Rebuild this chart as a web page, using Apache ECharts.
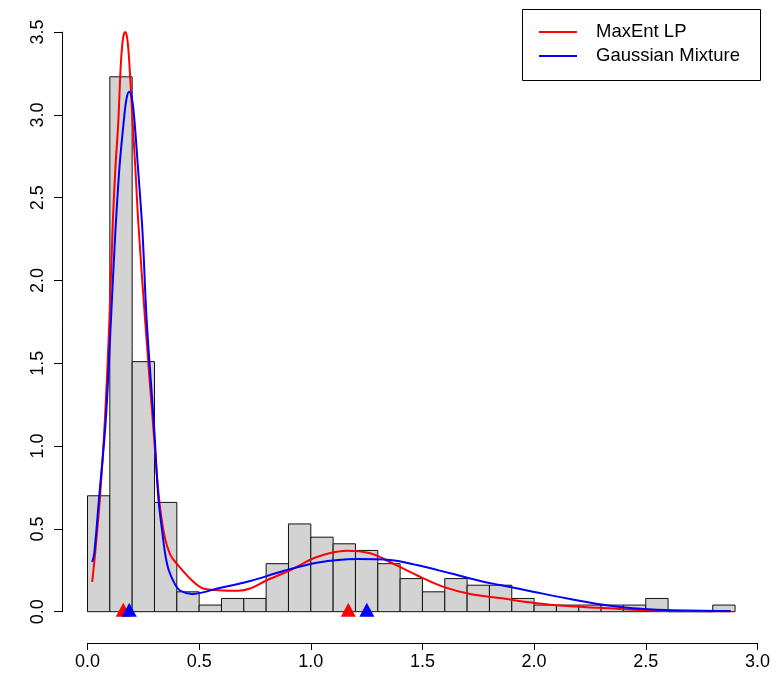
<!DOCTYPE html>
<html>
<head>
<meta charset="utf-8">
<title>MaxEnt LP vs Gaussian Mixture</title>
<script src="https://cdn.jsdelivr.net/npm/echarts@6/dist/echarts.min.js"></script>
<style>
  html, body { margin: 0; padding: 0; background: #fff; }
  #chart { width: 778px; height: 690px; }
</style>
</head>
<body>
<div id="chart"></div>
<script>
// histogram bins (width 0.1) and their density heights
const binEdges = [0, 0.1, 0.2, 0.3, 0.4, 0.5, 0.6, 0.7, 0.8, 0.9, 1.0, 1.1, 1.2, 1.3, 1.4,
  1.5, 1.6, 1.7, 1.8, 1.9, 2.0, 2.1, 2.2, 2.3, 2.4, 2.5, 2.6, 2.7, 2.8, 2.9];
const binHeights = [0.70, 3.23, 1.51, 0.66, 0.12, 0.04, 0.08, 0.08, 0.29, 0.53, 0.45, 0.41, 0.37, 0.29,
  0.20, 0.12, 0.20, 0.16, 0.16, 0.08, 0.04, 0.04, 0.04, 0.04, 0.04, 0.08, 0, 0, 0.04];

// density curves [x, y]
const maxentCurve = [[0.021, 0.18], [0.034, 0.35], [0.056, 0.69], [0.078, 1.16], [0.098, 1.76],
  [0.113, 2.34], [0.125, 2.68], [0.138, 2.96], [0.149, 3.30], [0.159, 3.46], [0.169, 3.50],
  [0.178, 3.46], [0.187, 3.32], [0.203, 2.94], [0.215, 2.66], [0.228, 2.34], [0.258, 1.76],
  [0.292, 1.16], [0.320, 0.69], [0.343, 0.47], [0.372, 0.34],
  [0.406, 0.28], [0.467, 0.19], [0.519, 0.14], [0.586, 0.13], [0.676, 0.127], [0.728, 0.14],
  [0.803, 0.19], [0.907, 0.25], [1.027, 0.33], [1.161, 0.368], [1.266, 0.353], [1.355, 0.30],
  [1.475, 0.22], [1.594, 0.15], [1.714, 0.107], [1.846, 0.083], [1.995, 0.054], [2.144, 0.034],
  [2.293, 0.024], [2.442, 0.012], [2.591, 0.006], [2.88, 0.003]];
const gaussCurve = [[0.021, 0.30], [0.030, 0.35], [0.052, 0.69], [0.082, 1.16], [0.105, 1.76],
  [0.123, 2.25], [0.143, 2.68], [0.163, 2.97], [0.175, 3.10], [0.187, 3.14], [0.199, 3.10],
  [0.210, 2.97], [0.225, 2.70], [0.246, 2.30], [0.265, 1.76], [0.299, 1.10], [0.317, 0.69],
  [0.336, 0.47], [0.349, 0.34], [0.364, 0.25], [0.392, 0.165], [0.414, 0.128], [0.467, 0.107],
  [0.586, 0.141], [0.728, 0.185], [0.877, 0.246], [1.027, 0.296], [1.206, 0.318], [1.355, 0.312],
  [1.475, 0.282], [1.624, 0.232], [1.773, 0.181], [1.848, 0.161], [1.995, 0.121], [2.144, 0.081],
  [2.293, 0.045], [2.442, 0.021], [2.591, 0.010], [2.88, 0.004]];

// mode markers
const maxentModes = [0.16, 1.168];
const gaussModes = [0.187, 1.251];

// axis ticks
const xTicks = [0, 0.5, 1.0, 1.5, 2.0, 2.5, 3.0];
const yTicks = [0, 0.5, 1.0, 1.5, 2.0, 2.5, 3.0, 3.5];

const FONT = "'Liberation Sans', Arial, sans-serif";

// build histogram rows [start, end, height]
const histData = binHeights.map((h, i) => [binEdges[i], binEdges[i] + 0.1, h]);

const chart = echarts.init(document.getElementById('chart'), null, { renderer: 'canvas' });

const option = {
  animation: false,
  backgroundColor: '#fff',
  grid: { left: 87.5, right: 20.6, top: 32.1, bottom: 78.3, containLabel: false },
  xAxis: {
    type: 'value',
    min: xTicks[0],
    max: xTicks[xTicks.length - 1],
    interval: 0.5,
    offset: 31.3,
    axisLine: { show: true, onZero: false, lineStyle: { color: '#000', width: 1 } },
    axisTick: { show: true, length: 7, lineStyle: { color: '#000', width: 1 } },
    axisLabel: {
      color: '#000', fontFamily: FONT, fontSize: 18, margin: 10,
      formatter: v => v.toFixed(1)
    },
    splitLine: { show: false }
  },
  yAxis: {
    type: 'value',
    min: yTicks[0],
    max: yTicks[yTicks.length - 1],
    interval: 0.5,
    offset: 25.5,
    axisLine: { show: true, onZero: false, lineStyle: { color: '#000', width: 1 } },
    axisTick: { show: true, length: 8, lineStyle: { color: '#000', width: 1 } },
    axisLabel: {
      color: '#000', fontFamily: FONT, fontSize: 18, rotate: 90, margin: 15,
      formatter: v => v.toFixed(1)
    },
    splitLine: { show: false }
  },
  legend: {
    left: 539,
    top: 22,
    orient: 'vertical',
    padding: 0,
    itemGap: 4,
    itemWidth: 38,
    itemHeight: 2,
    icon: 'rect',
    selectedMode: false,
    textStyle: { color: '#000', fontFamily: FONT, fontSize: 18.5, lineHeight: 20, padding: [0, 0, 0, 14] },
    data: ['MaxEnt LP', 'Gaussian Mixture']
  },
  graphic: [
    {
      type: 'rect',
      z: -1,
      shape: { x: 522.5, y: 9.5, width: 238, height: 71 },
      style: { fill: '#fff', stroke: '#000', lineWidth: 1 }
    }
  ],
  series: [
    {
      type: 'custom',
      name: 'hist',
      z: 1,
      clip: false,
      data: histData,
      renderItem: function (params, api) {
        const p0 = api.coord([api.value(0), api.value(2)]);
        const p1 = api.coord([api.value(1), 0]);
        return {
          type: 'rect',
          shape: { x: p0[0], y: p0[1], width: p1[0] - p0[0], height: p1[1] - p0[1] },
          style: { fill: '#d3d3d3', stroke: '#111', lineWidth: 1 }
        };
      }
    },
    {
      type: 'line',
      name: 'MaxEnt LP',
      z: 2,
      clip: false,
      color: '#ff0000',
      data: maxentCurve,
      showSymbol: false,
      smooth: 0.35,
      lineStyle: { color: '#ff0000', width: 2 }
    },
    {
      type: 'line',
      name: 'Gaussian Mixture',
      z: 3,
      clip: false,
      color: '#0000ff',
      data: gaussCurve,
      showSymbol: false,
      smooth: 0.35,
      lineStyle: { color: '#0000ff', width: 2 }
    },
    {
      type: 'scatter',
      name: 'maxent modes',
      z: 4,
      clip: false,
      symbol: 'triangle',
      symbolSize: [15, 14],
      symbolOffset: [0, -2],
      itemStyle: { color: '#ff0000', opacity: 1 },
      data: maxentModes.map(x => [x, 0])
    },
    {
      type: 'scatter',
      name: 'gauss modes',
      z: 5,
      clip: false,
      symbol: 'triangle',
      symbolSize: [15, 14],
      symbolOffset: [0, -2],
      itemStyle: { color: '#0000ff', opacity: 1 },
      data: gaussModes.map(x => [x, 0])
    }
  ]
};

chart.setOption(option);
</script>
</body>
</html>
